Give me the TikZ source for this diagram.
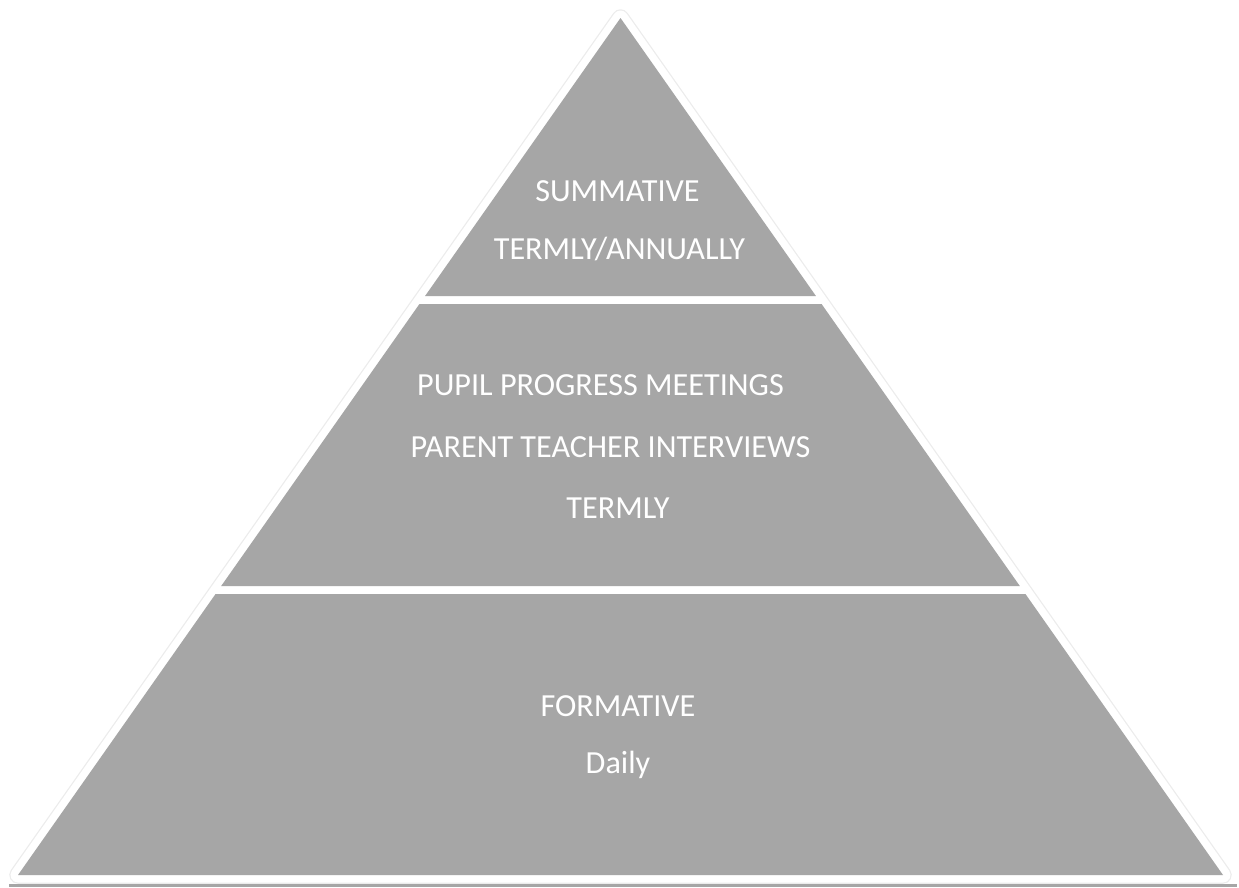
\documentclass[tikz,border=0pt]{standalone}
\usepackage{fontspec}
\setmainfont{Carlito}
\definecolor{tiergray}{RGB}{166,166,166}
\definecolor{edgegray}{RGB}{236,236,236}
\tikzset{
  tier/.style={fill=tiergray, draw=none},
  lbl/.style={text=white, anchor=base, inner sep=0pt, font=\fontsize{32.2}{38}\selectfont}
}
\begin{document}
\begin{tikzpicture}[x=1pt,y=-1pt]
\useasboundingbox (0,0) rectangle (1239,887);
% bottom strip
\fill[tiergray] (9,884) rectangle (1237,887);
% outer outline of the whole pyramid
\draw[edgegray, line width=17.5pt, line join=round] (620.5,18) -- (1223,875) -- (18,875) -- cycle;
\draw[white, line width=15pt, line join=round, fill=white] (620.5,18) -- (1223,875) -- (18,875) -- cycle;
% tiers
\path[tier] (620.5,18) -- (815.94,296) -- (425.06,296) -- cycle;
\path[tier] (419.43,304) -- (821.57,304) -- (1019.82,586) -- (221.18,586) -- cycle;
\path[tier] (215.55,594) -- (1025.45,594) -- (1223,875) -- (18,875) -- cycle;
% labels
\node[lbl] (t1) at (617.5,201) {SUMMATIVE};
\node[lbl] (t2) at (619.5,259) {TERMLY/ANNUALLY};
\node[lbl] (m1) at (600.5,395) {PUPIL PROGRESS MEETINGS};
\node[lbl] (m2) at (610.5,457) {PARENT TEACHER INTERVIEWS};
\node[lbl] (m3) at (618,518) {TERMLY};
\node[lbl] (b1) at (618,716) {FORMATIVE};
\node[lbl] (b2) at (618,773) {Daily};
\end{tikzpicture}
\end{document}
